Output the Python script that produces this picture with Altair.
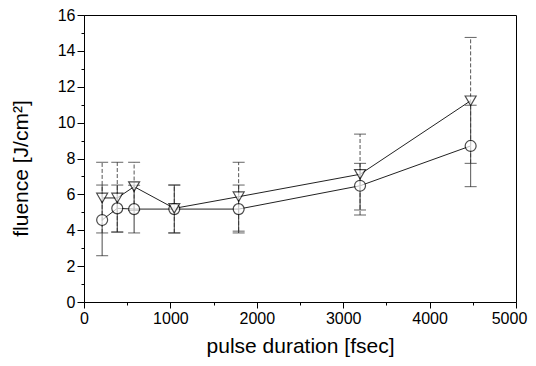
import altair as alt
import pandas as pd

# pulse durations [fsec]
duration = [210, 385, 580, 1045, 1790, 3195, 4475]

# series 1: triangles (down)
tri_val = [5.8, 5.8, 6.43, 5.22, 5.87, 7.12, 11.22]
tri_lo = [3.85, 3.9, 5.1, 3.85, 3.95, 4.85, 7.73]
tri_hi = [7.79, 7.79, 7.79, 6.52, 7.79, 9.36, 14.75]

# series 2: circles
cir_val = [4.57, 5.22, 5.18, 5.18, 5.18, 6.48, 8.7]
cir_lo = [2.58, 3.9, 3.85, 3.85, 3.85, 5.13, 6.43]
cir_hi = [6.52, 6.52, 6.51, 6.52, 6.52, 7.73, 10.97]

tri = pd.DataFrame({"d": duration, "v": tri_val, "lo": tri_lo, "hi": tri_hi, "s": "tri"})
cir = pd.DataFrame({"d": duration, "v": cir_val, "lo": cir_lo, "hi": cir_hi, "s": "cir"})

font = "Liberation Sans"

xs = alt.Scale(domain=[0, 5000], nice=False)
ys = alt.Scale(domain=[0, 16], nice=False)

x_axis = alt.Axis(
    title="pulse duration [fsec]",
    values=list(range(0, 5001, 500)),
    labelExpr="datum.value % 1000 == 0 ? datum.label : ''",
    tickSize={"condition": {"test": "datum.value % 1000 != 0", "value": 3}, "value": 6},
    labelOffset={"condition": {"test": "datum.value == 5000", "value": -7}, "value": 0},
    grid=False, domain=True, domainColor="black", tickColor="black",
    labelFont=font, labelFontSize=16, labelColor="black", labelPadding=2,
    labelOverlap=False,
    titleFont=font, titleFontSize=21, titleFontWeight="normal", titleColor="black",
    titlePadding=9, format="d", labelFlush=False,
)
y_axis = alt.Axis(
    title="fluence [J/cm²]",
    values=list(range(0, 17)),
    labelExpr="datum.value % 2 == 0 ? datum.label : ''",
    tickSize={"condition": {"test": "datum.value % 2 != 0", "value": 3}, "value": 7},
    grid=False, domain=True, domainColor="black", tickColor="black",
    labelFont=font, labelFontSize=16, labelColor="black", labelPadding=2,
    labelOverlap=False,
    titleFont=font, titleFontSize=21, titleFontWeight="normal", titleColor="black",
    titlePadding=26, titleY=153,
)

X = alt.X("d:Q", scale=xs, axis=x_axis)
Y = alt.Y("v:Q", scale=ys, axis=y_axis)


def bars(df, dash, color):
    base = alt.Chart(df)
    rule = base.mark_rule(color=color, strokeWidth=1, strokeDash=dash).encode(
        x=X, y=alt.Y("lo:Q", scale=ys, axis=y_axis), y2="hi:Q"
    )
    lo = base.mark_tick(orient="horizontal", size=12, thickness=1, color="#222").encode(
        x=X, y=alt.Y("lo:Q", scale=ys, axis=y_axis)
    )
    hi = base.mark_tick(orient="horizontal", size=12, thickness=1, color="#222").encode(
        x=X, y=alt.Y("hi:Q", scale=ys, axis=y_axis)
    )
    return rule + lo + hi


tri_bars = bars(tri, [4, 2], "#555")
cir_bars = bars(cir, [1, 0], "#333")

tri_line = alt.Chart(tri).mark_line(color="#222", strokeWidth=1).encode(x=X, y=Y)
cir_line = alt.Chart(cir).mark_line(color="#222", strokeWidth=1).encode(x=X, y=Y)

tri_pts = alt.Chart(tri).mark_point(
    shape="triangle-down", size=120, filled=True, fill="white", stroke="black", strokeWidth=1.2
).encode(x=X, y=Y)
cir_pts = alt.Chart(cir).mark_point(
    shape="circle", size=120, filled=True, fill="white", stroke="black", strokeWidth=1.2
).encode(x=X, y=Y)

chart = alt.layer(
    tri_bars, cir_bars, tri_line, cir_line, cir_pts, tri_pts
).properties(
    width=432, height=287,
    autosize=alt.AutoSizeParams(type="none"),
    padding={"left": 76, "top": 7, "right": 12, "bottom": 56},
    background="white",
).configure_view(stroke="black", strokeWidth=1)

chart.save("out.html", embed_options={"renderer": "svg", "actions": False})
